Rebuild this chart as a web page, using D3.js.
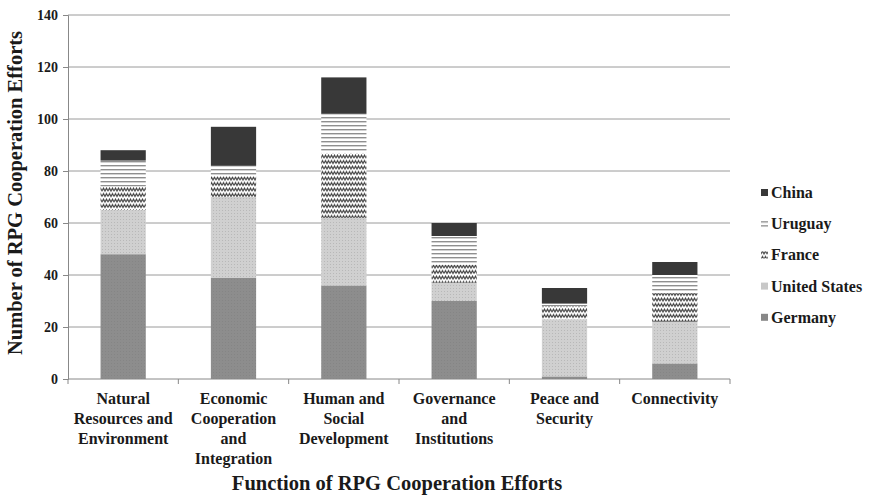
<!DOCTYPE html>
<html><head><meta charset="utf-8">
<script src="https://cdn.jsdelivr.net/npm/d3@7"></script>
<style>body{margin:0;background:#fff}svg{display:block}text{font-family:"Liberation Serif","Times New Roman",serif;font-weight:bold;fill:#1a1a1a}</style>
</head><body><svg id="c" width="869" height="496"></svg>
<script>
const categories = [
  ["Natural","Resources and","Environment"],
  ["Economic","Cooperation","and","Integration"],
  ["Human and","Social","Development"],
  ["Governance","and","Institutions"],
  ["Peace and","Security"],
  ["Connectivity"]
];
const seriesNames = ["Germany","United States","France","Uruguay","China"];
const germany      = [48, 39, 36, 30, 1, 6];
const unitedStates = [17, 31, 26, 7, 22, 16];
const france       = [9, 8, 25, 7, 5, 11];
const uruguay      = [10, 4, 15, 11, 1, 7];
const china        = [4, 15, 14, 5, 6, 5];
const yTicks = [0,20,40,60,80,100,120,140];

const svg = d3.select("#c");
const defs = svg.append("defs");
const pG = defs.append("pattern").attr("id","pG").attr("patternUnits","userSpaceOnUse").attr("width",3).attr("height",3);
pG.append("rect").attr("width",3).attr("height",3).attr("fill","#8d8d8d");
pG.append("rect").attr("width",1).attr("height",1).attr("fill","#858585");
const pU = defs.append("pattern").attr("id","pU").attr("patternUnits","userSpaceOnUse").attr("width",3).attr("height",3);
pU.append("rect").attr("width",3).attr("height",3).attr("fill","#d0d0d0");
pU.append("rect").attr("width",1).attr("height",1).attr("fill","#b8b8b8");
const pF = defs.append("pattern").attr("id","pF").attr("patternUnits","userSpaceOnUse").attr("width",6).attr("height",5.5);
pF.append("rect").attr("width",6).attr("height",5.5).attr("fill","#fff");
pF.append("path").attr("d","M0,4 L1.5,1.2 L3,4 L4.5,1.2 L6,4").attr("fill","none").attr("stroke","#444").attr("stroke-width",1.2);
const pR = defs.append("pattern").attr("id","pR").attr("patternUnits","userSpaceOnUse").attr("width",4).attr("height",4);
pR.append("rect").attr("width",4).attr("height",4).attr("fill","#fff");
pR.append("rect").attr("y",1).attr("width",4).attr("height",1.4).attr("fill","#8f8f8f");
const fills = {"Germany":"url(#pG)","United States":"url(#pU)","France":"url(#pF)","Uruguay":"url(#pR)","China":"#383838"};
const legendFills = {"Germany":"#888","United States":"#c8c8c8","France":"url(#pF)","Uruguay":"url(#pR)","China":"#383838"};

const L=68, R=730, T=15, B=379;
const x = d3.scaleBand().domain(d3.range(categories.length)).range([L,R]).paddingInner(0.59).paddingOuter(0.295);
const y = d3.scaleLinear().domain([0,140]).range([B,T]);

svg.append("g").selectAll("line").data(yTicks.filter(d=>d>0)).join("line")
  .attr("x1",L).attr("x2",R).attr("y1",d=>y(d)).attr("y2",d=>y(d))
  .attr("stroke","#9a9a9a").attr("stroke-width",1);

const table = categories.map((c,i)=>({i, "Germany":germany[i],"United States":unitedStates[i],"France":france[i],"Uruguay":uruguay[i],"China":china[i]}));
const stack = d3.stack().keys(seriesNames)(table);
svg.append("g").selectAll("g").data(stack).join("g")
  .attr("fill",d=>fills[d.key])
  .selectAll("rect").data(d=>d).join("rect")
  .attr("x",d=>x(d.data.i)).attr("width",x.bandwidth())
  .attr("y",d=>y(d[1])).attr("height",d=>y(d[0])-y(d[1]));

const ya = svg.append("g").attr("transform",`translate(${L},0)`)
  .call(d3.axisLeft(y).tickValues(yTicks).tickSize(5).tickPadding(5));
ya.select(".domain").attr("stroke","#888");
ya.selectAll(".tick line").attr("stroke","#888");
ya.selectAll("text").attr("font-size",14).attr("font-family","Liberation Serif").attr("font-weight","bold").attr("fill","#1a1a1a");

svg.append("line").attr("x1",L).attr("x2",R).attr("y1",B).attr("y2",B).attr("stroke","#888");
const step = x.step();
svg.append("g").selectAll("line").data(d3.range(categories.length+1)).join("line")
  .attr("x1",d=>L+d*step).attr("x2",d=>L+d*step).attr("y1",B).attr("y2",B+5).attr("stroke","#888");

const cl = svg.append("g").selectAll("text").data(categories).join("text")
  .attr("x",(d,i)=>x(i)+x.bandwidth()/2).attr("y",404).attr("text-anchor","middle").attr("font-size",16);
cl.selectAll("tspan").data(d=>d).join("tspan")
  .attr("x",function(){return this.parentNode.getAttribute("x");})
  .attr("dy",(d,j)=>j===0?0:20).text(d=>d);

svg.append("text").attr("x",397).attr("y",490).attr("text-anchor","middle").attr("font-size",20.5).text("Function of RPG Cooperation Efforts");
svg.append("text").attr("transform","translate(22,193) rotate(-90)").attr("text-anchor","middle").attr("font-size",20.5).text("Number of RPG Cooperation Efforts");

const legOrder = ["China","Uruguay","France","United States","Germany"];
const lg = svg.append("g").selectAll("g").data(legOrder).join("g")
  .attr("transform",(d,i)=>`translate(761,${193+i*31.2})`);
lg.append("rect").attr("x",0).attr("y",-4).attr("width",7).attr("height",7).attr("fill",d=>legendFills[d]);
lg.append("text").attr("x",10).attr("y",5).attr("font-size",16).text(d=>d);
</script></body></html>
